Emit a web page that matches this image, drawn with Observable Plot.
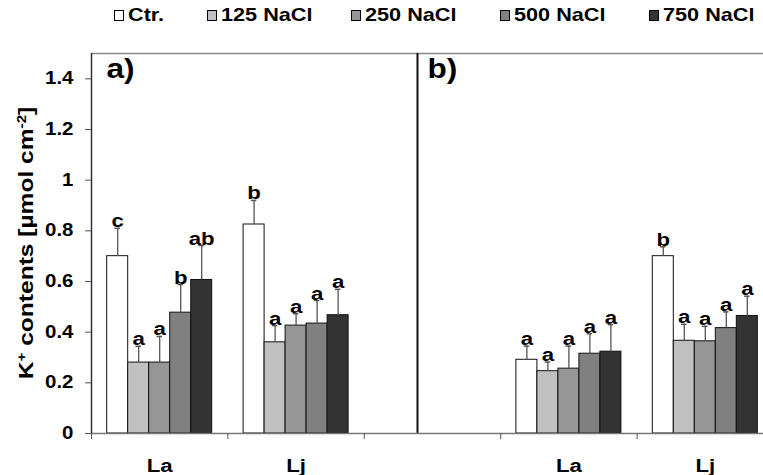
<!DOCTYPE html>
<html><head><meta charset="utf-8">
<script src="https://cdn.jsdelivr.net/npm/d3@7"></script>
<script src="https://cdn.jsdelivr.net/npm/@observablehq/plot@0.6"></script>
<style>
body{margin:0;background:#fff;font-family:"Liberation Sans",Arial,sans-serif}
#wrap{position:relative;width:763px;height:475px}
#legend{position:absolute;top:5px;left:0;width:763px;height:22px;font-weight:bold;font-size:19px;line-height:20px;white-space:nowrap}
#legend .it{position:absolute;top:0;display:flex;align-items:center}
#legend .sw{width:10px;height:11px;border:1px solid #000;margin-right:4px;box-sizing:border-box}
#legend .lb{display:inline-block;transform:scaleX(1.14);transform-origin:0 50%}
</style></head><body>
<div id="wrap"><div id="chart"></div><div id="legend"></div></div>
<script>
const treatments = ["Ctr.","125 NaCl","250 NaCl","500 NaCl","750 NaCl"];
const colors = ["#ffffff","#c0c0c0","#969696","#808080","#333333"];
const slotLabels = ["La","Lj","","La","Lj"];
const yTicks = [0,0.2,0.4,0.6,0.8,1,1.2,1.4];

// panel a
const aLaMean = [0.70,0.28,0.28,0.477,0.606];
const aLaErr  = [0.11,0.064,0.103,0.111,0.136];
const aLaSig  = ["c","a","a","b","ab"];
const aLjMean = [0.825,0.36,0.426,0.434,0.467];
const aLjErr  = [0.095,0.066,0.047,0.091,0.102];
const aLjSig  = ["b","a","a","a","a"];
// panel b
const bLaMean = [0.291,0.246,0.256,0.315,0.323];
const bLaErr  = [0.054,0.036,0.089,0.079,0.107];
const bLaSig  = ["a","a","a","a","a"];
const bLjMean = [0.70,0.366,0.364,0.416,0.464];
const bLjErr  = [0.037,0.065,0.059,0.064,0.078];
const bLjSig  = ["b","a","a","a","a"];

const groupsData = [
  {slot:0, mean:aLaMean, err:aLaErr, sig:aLaSig},
  {slot:1, mean:aLjMean, err:aLjErr, sig:aLjSig},
  {slot:3, mean:bLaMean, err:bLaErr, sig:bLaSig},
  {slot:4, mean:bLjMean, err:bLjErr, sig:bLjSig}
];

// layout constants
const barW = 0.154, groupPad = (1 - 5*barW)/2, capHalf = 0.02;
const dividerAt = 2.39;
const legendLefts = [114,207,351,500,649];
const stretch = 1.17;

const rows = [];
for (const g of groupsData) {
  treatments.forEach((t,j) => {
    const x1 = g.slot + groupPad + j*barW;
    rows.push({t, j, x1, x2: x1+barW, xc: x1+barW/2, mean: g.mean[j], top: g.mean[j]+g.err[j], sig: g.sig[j]});
  });
}
const labelRows = slotLabels.map((l,i)=>({l, xc:i+0.5})).filter(d=>d.l);

const bold = {fontWeight:"bold", fill:"#000"};
const chart = Plot.plot({
  width: 763, height: 475,
  marginLeft: 91, marginRight: 0, marginTop: 53, marginBottom: 42,
  x: {domain:[0,5], range:[91,773], axis:null},
  y: {domain:[0,1.5], range:[433,53], axis:null},
  color: {domain: treatments, range: colors},
  style: {fontFamily:"Liberation Sans, Arial, sans-serif", background:"#fff", overflow:"visible"},
  marks: [
    Plot.ruleY([1.5], {x1:0, x2:5, stroke:"#888", strokeWidth:1.5}),
    Plot.rectY(rows, {x1:"x1", x2:"x2", y1:0, y2:"mean", fill:"t", stroke:"#111", strokeWidth:1}),
    Plot.ruleX(rows, {x:"xc", y1:"mean", y2:"top", stroke:"#555", strokeWidth:1.3}),
    Plot.ruleY(rows, {y:"top", x1:d=>d.xc-capHalf, x2:d=>d.xc+capHalf, stroke:"#555", strokeWidth:1.5}),
    Plot.text(rows, {x:"xc", y:"top", text:"sig", lineAnchor:"bottom", dy:-1, fontSize:19, ...bold}),
    Plot.ruleX([dividerAt], {y1:0, y2:1.5, stroke:"#111", strokeWidth:2}),
    Plot.ruleY([0], {x1:0, x2:5, stroke:"#777", strokeWidth:1.5}),
    Plot.ruleX([0], {y1:0, y2:1.5, stroke:"#333", strokeWidth:1.5}),
    Plot.axisY({ticks:yTicks, tickSize:6, tickPadding:12, stroke:"#555", tickFormat:d=>String(+d.toFixed(1)), fontSize:17.5, fontWeight:"bold", anchor:"left", label:null}),
    Plot.axisX({ticks:[0,1,2,3,4,5], tickSize:6, tickFormat:()=>"", stroke:"#555", label:null}),
    Plot.text(labelRows, {x:"xc", y:0, text:"l", dy:32, lineAnchor:"middle", fontSize:19, ...bold}),
    Plot.text(["a)"], {frameAnchor:"top-left", dx:15, dy:5, lineAnchor:"top", fontSize:27, ...bold}),
    Plot.text(["b)"], {x:dividerAt, y:1.5, dx:10, dy:5, textAnchor:"start", lineAnchor:"top", fontSize:27, ...bold})
  ]
});
document.getElementById("chart").appendChild(chart);

// y axis title with superscripts
const ns = "http://www.w3.org/2000/svg";
const svg = chart.tagName.toLowerCase() === "svg" ? chart : chart.querySelector("svg");
const ys = chart.scale("y");
const tt = document.createElementNS(ns, "text");
tt.setAttribute("transform", `translate(33,${ys.apply(0.75)}) rotate(-90)`);
tt.setAttribute("text-anchor","middle");
tt.setAttribute("font-size","21");
tt.setAttribute("font-weight","bold");
tt.setAttribute("fill","#000");
const parts = [["K",0],["+",1],[" contents [µmol cm",0],["-2",1],["]",0]];
for (const [s,sup] of parts) {
  const ts = document.createElementNS(ns,"tspan");
  ts.textContent = s;
  if (sup) { ts.setAttribute("baseline-shift","super"); ts.setAttribute("font-size","13"); }
  tt.appendChild(ts);
}
svg.appendChild(tt);

// the source figure's lettering is horizontally widened; mimic it
svg.querySelectorAll("text").forEach(el => {
  const ax = parseFloat(el.getAttribute("x") || 0) || 0;
  const ay = parseFloat(el.getAttribute("y") || 0) || 0;
  const tr = el.getAttribute("transform") || "";
  el.setAttribute("transform", `${tr} translate(${ax},${ay}) scale(${stretch},1) translate(${-ax},${-ay})`);
});

// legend
const leg = document.getElementById("legend");
treatments.forEach((t,i)=>{
  const it = document.createElement("div"); it.className="it"; it.style.left = legendLefts[i] + "px";
  const sw = document.createElement("span"); sw.className="sw"; sw.style.background = colors[i];
  const lb = document.createElement("span"); lb.className="lb"; lb.textContent = t;
  it.appendChild(sw); it.appendChild(lb); leg.appendChild(it);
});
</script>
</body></html>
